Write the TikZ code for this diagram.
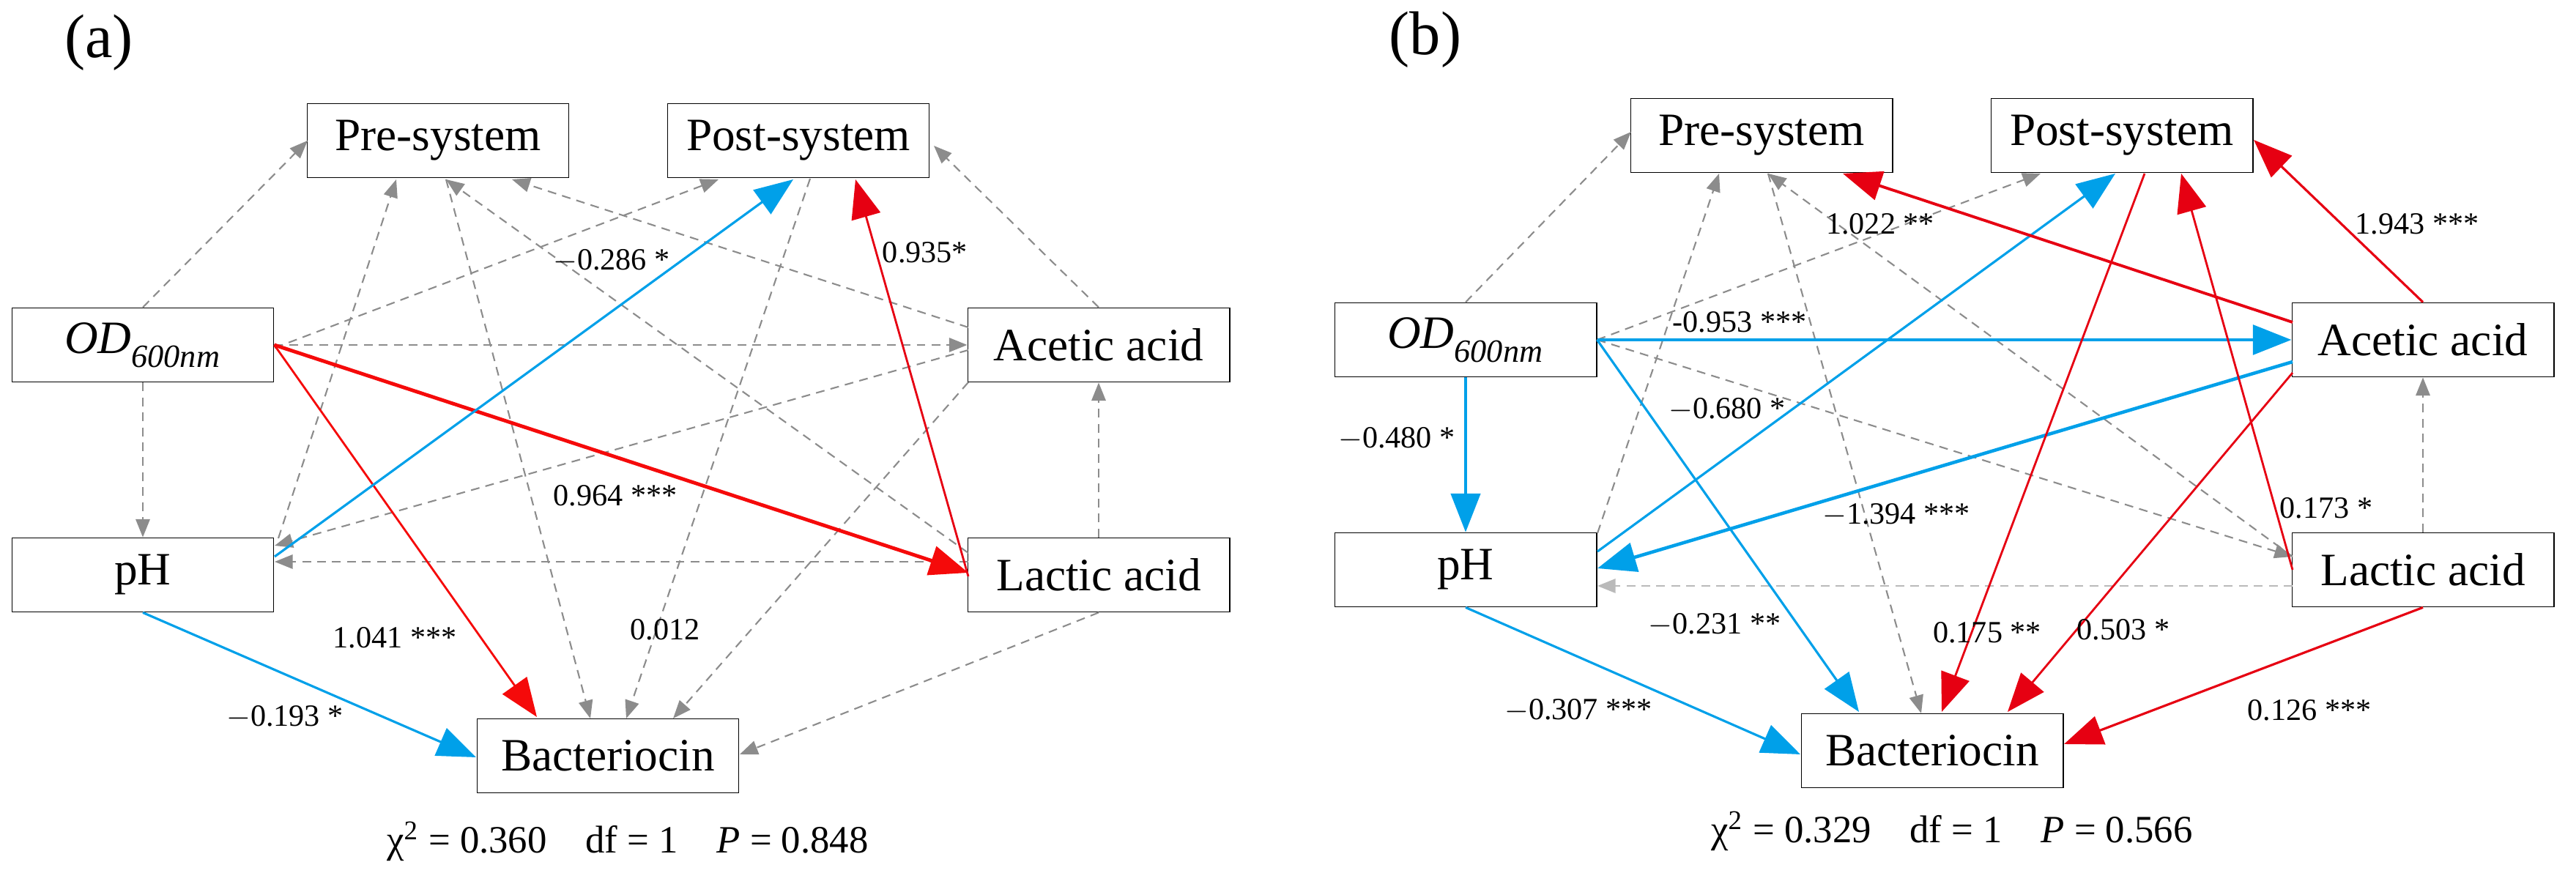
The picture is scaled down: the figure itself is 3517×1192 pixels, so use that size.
\documentclass[tikz,border=0pt]{standalone}
\usepackage{fontspec}
\setmainfont{Liberation Serif}
\usetikzlibrary{arrows.meta,calc}
\definecolor{rd}{HTML}{E60012}
\definecolor{rda}{HTML}{F50A0A}
\definecolor{bl}{HTML}{00A0E9}
\definecolor{gr}{HTML}{8C8C8C}
\tikzset{
 box/.style={draw=black,line width=0.5pt,minimum width=3.57cm,minimum height=1.01cm,inner sep=0pt,font=\fontsize{18}{20}\selectfont},
 lab/.style={font=\fontsize{12}{14}\selectfont,inner sep=1pt},
 big/.style={-{Triangle[length=15pt,width=11.5pt]}},
 sig/.style={big,line width=1pt},
 ns/.style={gr,line width=0.6pt,dash pattern=on 3.4pt off 2.4pt,-{Triangle[length=7pt,width=5.5pt]}},
 red/.style={sig,draw=rd,fill=rd},
 blu/.style={sig,draw=bl,fill=bl},
}
\begin{document}
\begin{tikzpicture}[x=0.01cm,y=-0.01cm]
\useasboundingbox (0,0) rectangle (3517,1192);
% ---------- panel a
\node[font=\fontsize{24}{26}\selectfont] (la) at (135,58) {(a)};
\node[box] (aPre) at (598,192) {Pre-system};
\node[box] (aPost) at (1090,192) {Post-system};
\node[box] (aOD) at (195,471) {\textit{OD}\raisebox{-0.35ex}{\textsubscript{\textit{600nm}}}};
\node[box] (aAc) at (1500,471) {Acetic acid};
\node[box] (apH) at (195,785) {pH};
\node[box] (aLa) at (1500,785) {Lactic acid};
\node[box] (aBac) at (830,1032) {Bacteriocin};
% dashed
\draw[ns] (aOD.north) -- ($(aPre)+(-178,0)$);
\draw[ns] ($(aOD)+(180,4)$) -- ($(aPost)+(-109,53)$);
\draw[ns] (aOD.east) -- (aAc.west);
\draw[ns] (aOD.south) -- (apH.north);
\draw[ns] ($(apH)+(185,-50)$) -- ($(aPre)+(-57,53)$);
\draw[ns] ($(aLa)+(-178,-30)$) -- ($(aPre)+(11,53)$);
\draw[ns] ($(aPre)+(11,53)$) -- ($(aBac)+(-24,-51)$);
\draw[ns] ($(aAc)+(-178,-24)$) -- ($(aPre)+(101,53)$);
\draw[ns] (aAc.north) -- ($(aPost)+(185,7)$);
\draw[ns] ($(aPost)+(16,52)$) -- ($(aBac)+(25,-51)$);
\draw[ns] ($(aAc)+(-178,51)$) -- ($(aBac)+(89,-51)$);
\draw[ns] ($(aAc)+(-178,7)$) -- ($(apH)+(180,-40)$);
\draw[ns] (aLa.north) -- (aAc.south);
\draw[ns] ($(aLa)+(-178,-18)$) -- ($(apH)+(180,-18)$);
\draw[ns] (aLa.south) -- ($(aBac)+(180,-2)$);
% significant
\draw[red,draw=rda,fill=rda,line width=1.4pt] (aOD.east) -- ($(aLa)+(-178,-3)$);
\draw[red,draw=rda,fill=rda,line width=0.8pt] (aOD.east) -- ($(aBac)+(-97,-53)$);
\draw[red,line width=0.8pt] ($(aLa)+(-178,2)$) -- ($(aPost)+(78,53)$);
\draw[blu,line width=0.9pt] ($(apH)+(180,-25)$) -- ($(aPost)+(-7,53)$);
\draw[blu,line width=0.9pt] (apH.south) -- ($(aBac)+(-180,2)$);
\node[lab] (a1) at (835,356) {$-$0.286 *};
\node[lab] (a2) at (1263,345) {0.935*};
\node[lab] (a3) at (840,677) {0.964 ***};
\node[lab] (a4) at (539,871) {1.041 ***};
\node[lab] (a5) at (908,860) {0.012};
\node[lab] (a6) at (389,979) {$-$0.193 *};
\node[font=\fontsize{15}{17}\selectfont] (chia) at (857,1149) {χ\textsuperscript{2} = 0.360\quad df = 1\quad \textit{P} = 0.848};
% ---------- panel b
\node[font=\fontsize{24}{26}\selectfont] (lb) at (1946,54) {(b)};
\node[box] (bPre) at (2405,185) {Pre-system};
\node[box] (bPost) at (2897,185) {Post-system};
\node[box] (bOD) at (2001,464) {\textit{OD}\raisebox{-0.35ex}{\textsubscript{\textit{600nm}}}};
\node[box] (bAc) at (3308,464) {Acetic acid};
\node[box] (bpH) at (2001,778) {pH};
\node[box] (bLa) at (3308,778) {Lactic acid};
\node[box] (bBac) at (2638,1025) {Bacteriocin};
% dashed
\draw[ns] (bOD.north) -- ($(bPre)+(-178,-5)$);
\draw[ns] (bOD.east) -- ($(bPost)+(-111,52)$);
\draw[ns] ($(bpH)+(180,-50)$) -- ($(bPre)+(-58,52)$);
\draw[ns] ($(bLa)+(-178,-18)$) -- ($(bPre)+(9,52)$);
\draw[ns] ($(bPre)+(9,52)$) -- ($(bBac)+(-15,-51)$);
\draw[ns] (bOD.east) -- ($(bLa)+(-178,-18)$);
\draw[ns] (bLa.north) -- (bAc.south);
\draw[ns,gr!60] ($(bLa)+(-178,22)$) -- ($(bpH)+(180,22)$);
% significant
\draw[blu,line width=0.9pt] (bOD.south) -- (bpH.north);
\draw[blu,line width=1.4pt] (bOD.east) -- (bAc.west);
\draw[blu,line width=0.9pt] (bOD.east) -- ($(bBac)+(-100,-53)$);
\draw[blu,line width=0.9pt] ($(bpH)+(180,-25)$) -- ($(bPost)+(-9,52)$);
\draw[blu,line width=1.3pt] ($(bAc)+(-178,30)$) -- ($(bpH)+(180,-2)$);
\draw[blu,line width=0.9pt] (bpH.south) -- ($(bBac)+(-180,5)$);
\draw[red,line width=1.1pt] ($(bAc)+(-178,-24)$) -- ($(bPre)+(111,52)$);
\draw[red,line width=0.9pt] (bAc.north) -- ($(bPost)+(180,6)$);
\draw[red,line width=0.8pt] ($(bPost)+(31,52)$) -- ($(bBac)+(13,-53)$);
\draw[red,line width=0.8pt] ($(bLa)+(-178,0)$) -- ($(bPost)+(81,52)$);
\draw[red,line width=0.8pt] ($(bAc)+(-178,45)$) -- ($(bBac)+(103,-53)$);
\draw[red,line width=0.9pt] (bLa.south) -- ($(bBac)+(180,-9)$);
\node[lab] (b1) at (1907,599) {$-$0.480 *};
\node[lab] (b2) at (2375,440) {-0.953 ***};
\node[lab] (b3) at (2567,306) {1.022 **};
\node[lab] (b4) at (3300,306) {1.943 ***};
\node[lab] (b5) at (2358,559) {$-$0.680 *};
\node[lab] (b6) at (2589,703) {$-$1.394 ***};
\node[lab] (b7) at (3176,694) {0.173 *};
\node[lab] (b8) at (2341,853) {$-$0.231 **};
\node[lab] (b9) at (2713,864) {0.175 **};
\node[lab] (b10) at (2899,860) {0.503 *};
\node[lab] (b11) at (2155,970) {$-$0.307 ***};
\node[lab] (b12) at (3153,970) {0.126 ***};
\node[font=\fontsize{15}{17}\selectfont] (chib) at (2665,1135) {χ\textsuperscript{2} = 0.329\quad df = 1\quad \textit{P} = 0.566};
\end{tikzpicture}
\end{document}
